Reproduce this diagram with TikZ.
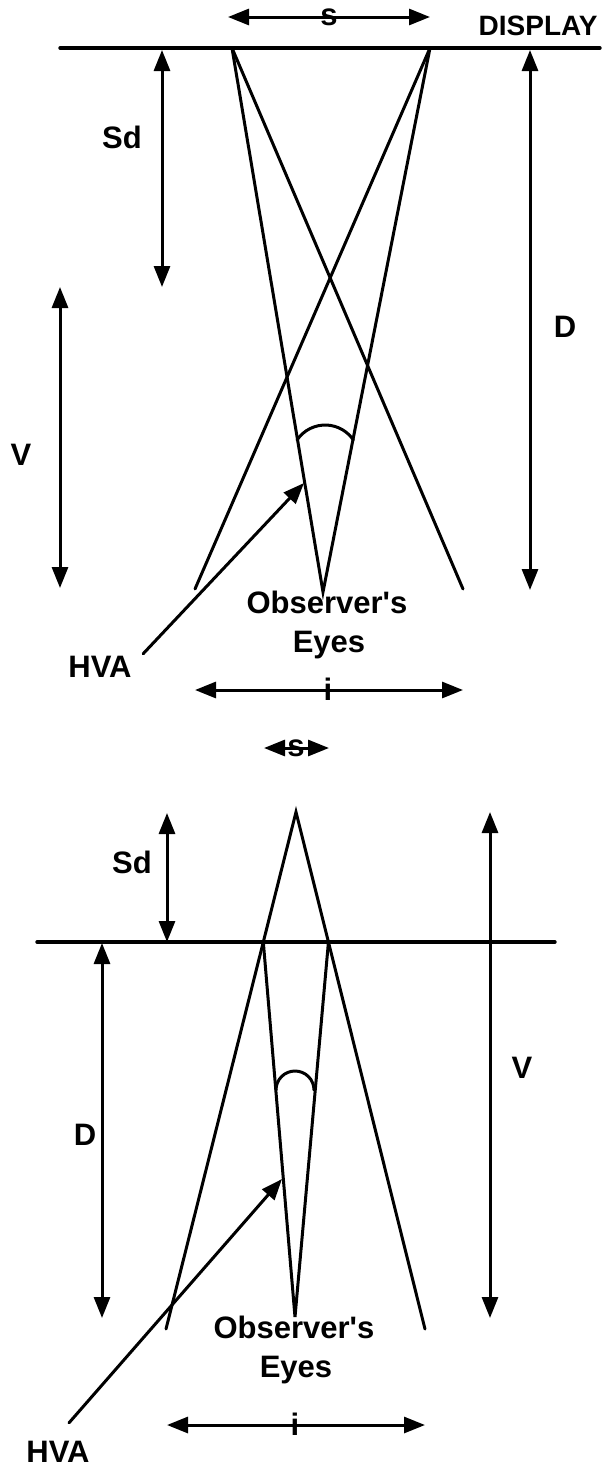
\documentclass[tikz,border=0pt]{standalone}
\usepackage{fontspec}
\newfontfamily\diagfont{Liberation Sans}
\usetikzlibrary{arrows.meta,calc}

\begin{document}
\begin{tikzpicture}[x=1pt,y=-1pt,line cap=round,line width=3pt,
  >={Triangle[length=21pt,width=16pt]},
  font=\diagfont\fontsize{31}{36}\selectfont\bfseries,
  lbl/.style={inner sep=0pt},
  screen/.style={line width=3.4pt}]
\useasboundingbox (0,0) rectangle (605,1468);
% upper view
\coordinate (dispL) at (60,48);
\coordinate (dispR) at (600,48);
\draw[screen] (dispL) -- (dispR);
\node[lbl,anchor=base east,font=\diagfont\fontsize{28}{32}\selectfont\bfseries] (display) at (599,35) {DISPLAY};
\coordinate (sL) at (228,17);
\coordinate (sR) at (430,17);
\draw[<->] (sL) -- (sR);
\node[lbl] (sTop) at ($(sL)!0.5!(sR)$) {s};
\coordinate (pL) at (232,48);
\coordinate (pR) at (430,48);
\coordinate (eyeTop) at (323,592);
\coordinate (farL) at (195,589);
\coordinate (farR) at (463,589);
\draw (pL) -- (farR);
\draw (pR) -- (farL);
\draw (pL) -- (eyeTop) -- (pR);
\draw (297,440) arc[start angle=-146,end angle=-34,radius=34];
\coordinate (sdT1) at (162,50);
\coordinate (sdT2) at (162,287);
\draw[<->] (sdT1) -- (sdT2);
\node[lbl] (sdTop) at (122,137) {Sd};
\coordinate (vT1) at (60,287);
\coordinate (vT2) at (60,588);
\draw[<->] (vT1) -- (vT2);
\node[lbl] (vTop) at (21,455) {V};
\coordinate (dT1) at (530,50);
\coordinate (dT2) at (530,590);
\draw[<->] (dT1) -- (dT2);
\node[lbl] (dTop) at (565,327) {D};
\node[lbl] (hvaTop) at (100,667) {HVA};
\coordinate (hvaTopTip) at (304,483);
\draw[->] ($(hvaTop.north east)+(10,-1)$) -- (hvaTopTip);
\node[lbl,anchor=base] (obsTop) at (327,613) {Observer's};
\node[lbl,anchor=base] (eyesTop) at (329,652) {Eyes};
\coordinate (iL) at (195,690);
\coordinate (iR) at (463,690);
\draw[<->] (iL) -- (iR);
\node[lbl] (iTop) at (328,689) {i};
% lower view
\coordinate (dispBL) at (37,942);
\coordinate (dispBR) at (555,942);
\draw[screen] (dispBL) -- (dispBR);
\coordinate (sBL) at (264,748);
\coordinate (sBR) at (329,748);
\draw[<->] (sBL) -- (sBR);
\node[lbl] (sBot) at (296,748) {s};
\coordinate (apex) at (296,812);
\coordinate (endL) at (166,1329);
\coordinate (endR) at (425,1329);
\coordinate (qL) at ($(apex)!0.2515!(endL)$);
\coordinate (qR) at ($(apex)!0.2515!(endR)$);
\coordinate (eyeBot) at (295,1317);
\draw (endL) -- (apex) -- (endR);
\draw (qL) -- (eyeBot) -- (qR);
\draw (276,1090) arc[start angle=-180,end angle=0,radius=19];
\coordinate (sdB1) at (167,813);
\coordinate (sdB2) at (167,942);
\draw[<->] (sdB1) -- (sdB2);
\node[lbl] (sdBot) at (132,862) {Sd};
\coordinate (dB1) at (102,943);
\coordinate (dB2) at (102,1318);
\draw[<->] (dB1) -- (dB2);
\node[lbl] (dBot) at (85,1135) {D};
\coordinate (vB1) at (490,812);
\coordinate (vB2) at (490,1318);
\draw[<->] (vB1) -- (vB2);
\node[lbl] (vBot) at (522,1068) {V};
\node[lbl] (hvaBot) at (58,1452) {HVA};
\coordinate (hvaBotTip) at (282,1179);
\draw[->] ($(hvaBot.north)+(11,-17)$) -- (hvaBotTip);
\node[lbl,anchor=base] (obsBot) at (294,1338) {Observer's};
\node[lbl,anchor=base] (eyesBot) at (296,1377) {Eyes};
\coordinate (iBL) at (167,1425);
\coordinate (iBR) at (425,1425);
\draw[<->] (iBL) -- (iBR);
\node[lbl] (iBot) at (295,1424) {i};
\end{tikzpicture}
\end{document}
